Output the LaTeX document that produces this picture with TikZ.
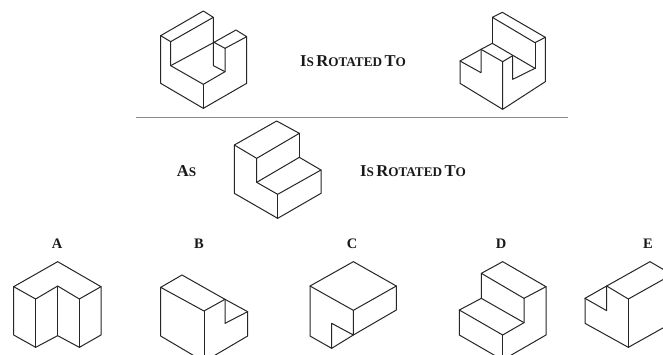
\documentclass[tikz,border=0pt]{standalone}
\usepackage{fontspec}
\setmainfont{Liberation Serif}
\newcommand{\capsmall}[2]{{\fontsize{16.6}{18}\selectfont #1}{\fontsize{13.2}{18}\selectfont #2}}
\newcommand{\rotlabel}{\capsmall{I}{S} \capsmall{R}{OTATED} \capsmall{T}{O}}
\tikzset{
  solid3d/.style={line width=1pt,draw=black!85,line join=round,line cap=round},
  zoomed/.style={x=0.33333pt,y=-0.33333pt},
  caption/.style={inner sep=0pt,font=\bfseries,text=black!90},
  letter/.style={inner sep=0pt,font=\bfseries\fontsize{14.5}{16}\selectfont,text=black!90},
  divider/.style={line width=1.1pt,draw=black!45}
}
\begin{document}
\begin{tikzpicture}[x=1pt,y=-1pt]
\clip (0,0) rectangle (663,354);
\fill[white] (0,0) rectangle (663,354);
% labels
\node[caption] (rot1) at (353,61) {\rotlabel};
\node[caption] (rot2) at (413,171) {\rotlabel};
\node[caption] (as) at (186.5,171) {\capsmall{A}{S}};
\node[letter] (la) at (57,243.5) {A};
\node[letter] (lb) at (199,243.5) {B};
\node[letter] (lc) at (352,243.5) {C};
\node[letter] (ld) at (501,243.5) {D};
\node[letter] (le) at (648,243.5) {E};
% divider
\coordinate (divL) at (136,117.5);
\coordinate (divR) at (568,117.5);
\draw[divider] (divL) -- (divR);
% top left solid
\begin{scope}[shift={(140,0)},zoomed,solid3d]
\draw (62,107) -- (190,33) -- (220,52) -- (92,125) -- cycle;
\draw (62,107) -- (62,250) -- (190,325) -- (320,250) -- (320,110) -- (288,90) -- (222,127) -- (255,145) -- (320,110);
\draw (92,125) -- (92,197) -- (190,253) -- (255,215) -- (255,145);
\draw (92,197) -- (222,127);
\draw (220,52) -- (220,197) -- (255,215);
\draw (190,253) -- (190,325);
\end{scope}
% top right solid
\begin{scope}[shift={(460,0)},zoomed,solid3d]
\draw (97,52) -- (127,37) -- (256,112) -- (225,128) -- cycle;
\draw (97,52) -- (97,130);
\draw (225,128) -- (225,205);
\draw (256,112) -- (256,245) -- (128,328) -- (0,250) -- (0,183) -- (63,148) -- (128,185) -- (128,328);
\draw (63,148) -- (97,130) -- (225,205);
\draw (128,185) -- (158,167);
\draw (0,183) -- (63,218) -- (63,148);
\draw (158,167) -- (158,238) -- (225,205);
\end{scope}
% middle solid
\begin{scope}[shift={(220,110)},zoomed,solid3d]
\draw (170,33) -- (238,70) -- (110,145) -- (43,105) -- cycle;
\draw (43,105) -- (43,250) -- (173,325) -- (303,250) -- (303,180) -- (238,142) -- (110,217);
\draw (238,70) -- (238,142);
\draw (110,145) -- (110,217) -- (173,253) -- (303,180);
\draw (173,253) -- (173,325);
\end{scope}
% A
\begin{scope}[shift={(0,230)},zoomed,solid3d]
\draw (173,95) -- (303,170) -- (238,207) -- (173,168) -- (107,207) -- (41,170) -- cycle;
\draw (41,170) -- (41,315) -- (107,352) -- (173,317) -- (238,352) -- (303,315) -- (303,170);
\draw (107,207) -- (107,352);
\draw (173,168) -- (173,317);
\draw (238,207) -- (238,352);
\end{scope}
% B
\begin{scope}[shift={(150,230)},zoomed,solid3d]
\draw (96,135) -- (225,208) -- (162,243) -- (32,172) -- cycle;
\draw (32,172) -- (32,318) -- (162,395) -- (293,318) -- (293,245) -- (225,208);
\draw (225,208) -- (225,280) -- (293,245);
\draw (162,243) -- (162,395);
\end{scope}
% C
\begin{scope}[shift={(300,230)},zoomed,solid3d]
\draw (160,95) -- (289,168) -- (160,241) -- (30,168) -- cycle;
\draw (30,168) -- (30,318) -- (95,355) -- (160,315) -- (289,240) -- (289,168);
\draw (160,241) -- (160,315) -- (95,280) -- (95,355);
\end{scope}
% D
\begin{scope}[shift={(450,230)},zoomed,solid3d]
\draw (158,95) -- (288,170) -- (222,205) -- (94,130) -- cycle;
\draw (94,130) -- (94,205) -- (28,240) -- (158,315) -- (222,278) -- (222,205);
\draw (94,205) -- (222,278);
\draw (28,240) -- (28,315) -- (158,390) -- (288,315) -- (288,170);
\draw (158,315) -- (158,390);
\end{scope}
% E
\begin{scope}[shift={(570,230)},zoomed,solid3d]
\draw (110,168) -- (240,95) -- (300,130);
\draw (45,205) -- (110,168) -- (175,207) -- (300,137);
\draw (45,205) -- (110,242) -- (110,168);
\draw (45,205) -- (45,280) -- (175,352) -- (300,282);
\draw (175,207) -- (175,352);
\end{scope}
\end{tikzpicture}
\end{document}
